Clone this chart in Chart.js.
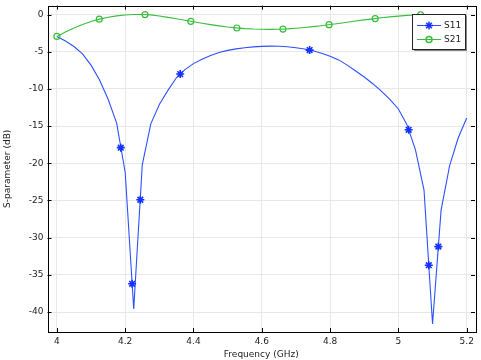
<!DOCTYPE html>
<html><head><meta charset="utf-8">
<script src="https://cdn.jsdelivr.net/npm/chart.js@4"></script>
<style>html,body{margin:0;padding:0;background:#fff}</style>
</head><body>
<canvas id="c" width="481" height="360"></canvas>
<script>
const freq = [4.000,4.025,4.050,4.075,4.100,4.125,4.150,4.175,4.200,4.225,4.250,4.275,4.300,4.325,4.350,4.375,4.400,4.425,4.450,4.475,4.500,4.525,4.550,4.575,4.600,4.625,4.650,4.675,4.700,4.725,4.750,4.775,4.800,4.825,4.850,4.875,4.900,4.925,4.950,4.975,5.000,5.025,5.050,5.075,5.100,5.125,5.150,5.175,5.200];
const s11 = [-2.95,-3.55,-4.3,-5.3,-6.8,-8.8,-11.4,-14.6,-21.2,-39.6,-20.2,-14.7,-12.1,-10.2,-8.5,-7.4,-6.6,-6.0,-5.5,-5.1,-4.82,-4.62,-4.46,-4.35,-4.28,-4.25,-4.27,-4.34,-4.46,-4.63,-4.88,-5.2,-5.6,-6.1,-6.8,-7.6,-8.4,-9.3,-10.3,-11.4,-12.7,-14.8,-18.2,-23.6,-41.6,-26.3,-20.3,-16.6,-13.9];
const s21 = [-2.95,-2.35,-1.8,-1.35,-0.95,-0.62,-0.37,-0.18,-0.06,0.0,0.01,-0.05,-0.2,-0.38,-0.57,-0.78,-0.98,-1.18,-1.36,-1.53,-1.68,-1.8,-1.89,-1.95,-1.98,-1.99,-1.97,-1.93,-1.85,-1.75,-1.63,-1.5,-1.35,-1.2,-1.04,-0.88,-0.72,-0.58,-0.44,-0.32,-0.21,-0.12,-0.07,-0.05,-0.05,-0.06,-0.07,-0.08,-0.09];
const s11MarkFreq = [4.187,4.2202,4.2443,4.361,4.740,5.030,5.089,5.117];
const s11MarkVal = [-17.9,-36.2,-24.9,-8.0,-4.78,-15.5,-33.7,-31.2];
const s21MarkFreq = [4.0,4.124,4.258,4.392,4.527,4.662,4.797,4.932,5.065];
const s21MarkVal = [-2.95,-0.62,0.0,-0.92,-1.81,-1.95,-1.37,-0.54,-0.05];
const xTicks = [4,4.2,4.4,4.6,4.8,5,5.2];
const yTicks = [0,-5,-10,-15,-20,-25,-30,-35,-40];
const seriesNames = ['S11','S21'];

const BLUE = 'rgb(45,80,255)';
const BLUE_M = 'rgb(20,50,255)';
const GREEN = 'rgb(55,190,60)';
const FONT = 'DejaVu Sans';

const pts = (xs, ys) => xs.map((x,i)=>({x:x, y:ys[i]}));

const frame = {
  id:'frame',
  afterDatasetsDraw(chart){
    const ctx = chart.ctx, a = chart.chartArea;
    const xs = chart.scales.x, ys = chart.scales.y;
    ctx.save();
    ctx.strokeStyle = '#000'; ctx.lineWidth = 1;
    ctx.beginPath();
    xTicks.forEach(v=>{const p=Math.round(xs.getPixelForValue(v))+0.5;
      ctx.moveTo(p,a.bottom); ctx.lineTo(p,a.bottom-4);
      ctx.moveTo(p,a.top); ctx.lineTo(p,a.top+4);});
    yTicks.forEach(v=>{const p=Math.round(ys.getPixelForValue(v))+0.5;
      ctx.moveTo(a.left,p); ctx.lineTo(a.left+4,p);
      ctx.moveTo(a.right,p); ctx.lineTo(a.right-4,p);});
    ctx.stroke();
    ctx.strokeRect(Math.round(a.left)+0.5, Math.round(a.top)+0.5, Math.round(a.right-a.left), Math.round(a.bottom-a.top));
    // legend
    const lx=412, ly=14, lw=53, lh=35;
    ctx.fillStyle='#888'; ctx.fillRect(lx+2,ly+2,lw,lh);
    ctx.fillStyle='#fff'; ctx.fillRect(lx,ly,lw,lh);
    ctx.strokeStyle='#222'; ctx.strokeRect(lx+0.5,ly+0.5,lw,lh);
    const rows=[{c:BLUE,m:BLUE_M,s:'star',r:4,y:ly+11},{c:GREEN,m:GREEN,s:'circle',r:3,y:ly+25}];
    rows.forEach((r,i)=>{
      ctx.strokeStyle=r.c; ctx.lineWidth=1;
      ctx.beginPath(); ctx.moveTo(lx+5,r.y+0.5); ctx.lineTo(lx+29,r.y+0.5); ctx.stroke();
      ctx.strokeStyle=r.m; ctx.fillStyle='rgba(0,0,0,0)'; ctx.lineWidth=1.5;
      Chart.helpers.drawPoint(ctx,{pointStyle:r.s,radius:r.r,borderWidth:1.5,rotation:0},lx+17,r.y+0.5);
      ctx.fillStyle='#222'; ctx.font='9px '+FONT; ctx.textBaseline='middle'; ctx.textAlign='left';
      ctx.fillText(seriesNames[i],lx+32,r.y+1);
    });
    ctx.restore();
  }
};

new Chart(document.getElementById('c'),{
  type:'line',
  data:{datasets:[
    {label:seriesNames[0],data:pts(freq,s11),borderColor:BLUE,borderWidth:1.1,pointRadius:0,tension:0,order:2},
    {label:seriesNames[1],data:pts(freq,s21),borderColor:GREEN,borderWidth:1.1,pointRadius:0,tension:0,order:1},
    {label:'m11',data:pts(s11MarkFreq,s11MarkVal),showLine:false,pointStyle:'star',pointRadius:4,borderColor:BLUE_M,pointBorderWidth:1.6,backgroundColor:'rgba(0,0,0,0)',order:0},
    {label:'m21',data:pts(s21MarkFreq,s21MarkVal),showLine:false,pointStyle:'circle',pointRadius:3,borderColor:GREEN,pointBorderWidth:1.2,backgroundColor:'rgba(0,0,0,0)',order:0}
  ]},
  options:{
    responsive:false,animation:false,devicePixelRatio:1,
    layout:{padding:{left:2,top:4,right:6,bottom:0}},
    plugins:{legend:{display:false},tooltip:{enabled:false}},
    scales:{
      x:{type:'linear',min:3.9725,max:5.2243,
        afterBuildTicks:s=>{s.ticks=xTicks.map(v=>({value:v}));},
        afterFit:s=>{s.height=28;s.paddingLeft=0;s.paddingRight=0;},
        grid:{color:'#e8e8e8',drawTicks:false},
        border:{display:false},
        ticks:{font:{family:FONT,size:9},color:'#222',padding:4,maxRotation:0,callback:v=>String(v)},
        title:{display:true,text:'Frequency (GHz)',font:{family:FONT,size:9},color:'#222',padding:{top:0,bottom:0}}
      },
      y:{type:'linear',min:-42.68,max:1.2,
        afterBuildTicks:s=>{s.ticks=yTicks.map(v=>({value:v}));},
        afterFit:s=>{s.width=45.5;s.paddingTop=0;s.paddingBottom=0;},
        grid:{color:'#e8e8e8',drawTicks:false},
        border:{display:false},
        ticks:{font:{family:FONT,size:9},color:'#222',padding:4,callback:v=>String(v)},
        title:{display:true,text:'S-parameter (dB)',font:{family:FONT,size:9},color:'#222',padding:{top:0,bottom:0}}
      }
    }
  },
  plugins:[frame]
});
</script>
</body></html>
